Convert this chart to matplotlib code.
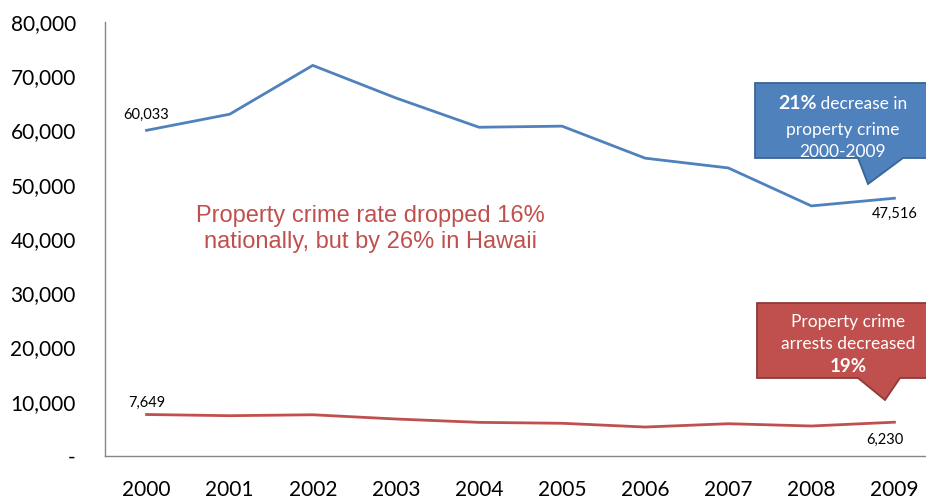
import matplotlib
matplotlib.use("Agg")
import matplotlib.pyplot as plt
from matplotlib.patches import Polygon
from matplotlib.ticker import FuncFormatter

# -------------------------------------------------------
# Data
# -------------------------------------------------------

years = ["2000", "2001", "2002", "2003", "2004", "2005", "2006", "2007", "2008", "2009"]

property_crime = [60033, 63000, 72000, 66000, 60600, 60800, 54900, 53100, 46100, 47516]

property_arrests = [7649, 7430, 7600, 6820, 6200, 6030, 5340, 5950, 5530, 6230]

blue = "#4F81BD"
red = "#C0504D"
W, H = 926, 504

plt.rcParams["font.family"] = ["Lato", "DejaVu Sans"]

fig = plt.figure(figsize=(W / 100, H / 100), dpi=100)
ax = fig.add_axes([105 / W, 1 - 456 / H, 831 / W, 434 / H])

x = list(range(len(years)))
ax.plot(x, property_crime, color=blue, lw=2)
ax.plot(x, property_arrests, color=red, lw=2)

ax.set_xlim(-0.5, 9.5)
ax.set_ylim(0, 80000)
ax.set_xticks(x)
ax.set_xticklabels(years)
ax.set_yticks(range(0, 80001, 10000))
ax.yaxis.set_major_formatter(FuncFormatter(lambda v, p: "-" if v == 0 else f"{v:,.0f}"))
ax.tick_params(axis="both", length=0, labelsize=15, colors="black")
ax.tick_params(axis="y", pad=21)
ax.tick_params(axis="x", pad=17)

for side in ["top", "right"]:
    ax.spines[side].set_visible(False)
for side in ["left", "bottom"]:
    ax.spines[side].set_color("#868686")
    ax.spines[side].set_linewidth(1)

# end point labels
ax.annotate(f"{property_crime[0]:,}", (0, property_crime[0]), xytext=(0, 6),
            textcoords="offset points", ha="center", va="bottom", fontsize=10.5)
ax.annotate(f"{property_crime[-1]:,}", (9, property_crime[-1]), xytext=(0, -6),
            textcoords="offset points", ha="center", va="top", fontsize=10.5)
ax.annotate(f"{property_arrests[0]:,}", (0, property_arrests[0]), xytext=(0, 3),
            textcoords="offset points", ha="center", va="bottom", fontsize=10.5)
ax.annotate(f"{property_arrests[-1]:,}", (9, property_arrests[-1]), xytext=(-7, -8),
            textcoords="offset points", ha="center", va="top", fontsize=10.5)

# middle note
fig.text(370 / W, 1 - 229 / H, "Property crime rate dropped 16%\nnationally, but by 26% in Hawaii",
         color=red, fontsize=17, ha="center", va="center", family="Liberation Sans",
         linespacing=1.2)


# -------------------------------------------------------
# Callouts (pixel coordinates, top-left origin)
# -------------------------------------------------------

def callout(x0, y0, x1, y1, b0, b1, tip, face, edge):
    pts = [(x0, y0), (x1, y0), (x1, y1), (b1, y1), tip, (b0, y1), (x0, y1)]
    pts = [(px / W, 1 - py / H) for px, py in pts]
    fig.patches.append(Polygon(pts, closed=True, transform=fig.transFigure,
                               facecolor=face, edgecolor=edge, lw=1.3, zorder=5))


callout(755, 83, 940, 158, 858, 903, (868, 184), blue, "#3A6595")
callout(757, 303, 940, 378, 858, 900, (885, 400), red, "#8E3A38")

t = fig.text(778 / W, 1 - 109 / H, "21%", color="white", fontsize=14, weight="bold",
             ha="left", va="baseline", zorder=6)
fig.canvas.draw()
bb = t.get_window_extent()
fig.text(bb.x1 / W, 1 - 109 / H, " decrease in", color="white", fontsize=12.5,
         ha="left", va="baseline", zorder=6)
fig.text(843 / W, 1 - 130 / H, "property crime", color="white", fontsize=12.5,
         ha="center", va="center", zorder=6)
fig.text(843 / W, 1 - 152 / H, "2000-2009", color="white", fontsize=12.5,
         ha="center", va="center", zorder=6)

fig.text(848 / W, 1 - 322 / H, "Property crime", color="white", fontsize=12.5,
         ha="center", va="center", zorder=6)
fig.text(848 / W, 1 - 344 / H, "arrests decreased", color="white", fontsize=12.5,
         ha="center", va="center", zorder=6)
fig.text(848 / W, 1 - 366 / H, "19%", color="white", fontsize=13.5, weight="bold",
         ha="center", va="center", zorder=6)

fig.savefig("out.png", dpi=100)
